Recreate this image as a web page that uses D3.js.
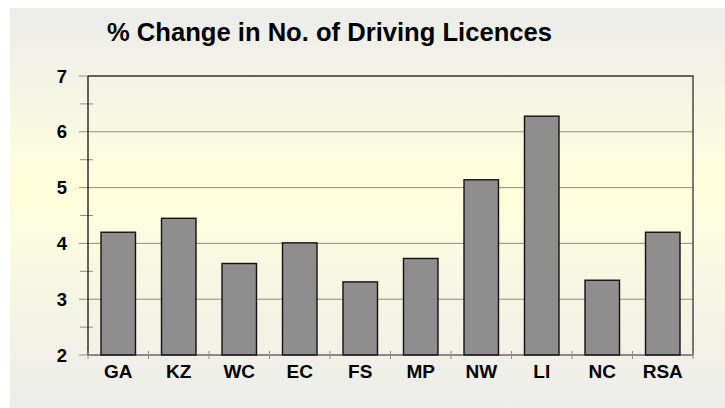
<!DOCTYPE html>
<html>
<head>
<meta charset="utf-8">
<script src="https://cdn.jsdelivr.net/npm/d3@7"></script>
<style>
  body { margin: 0; background: #ffffff; }
  text { font-family: "Liberation Sans", Arial, sans-serif; font-weight: bold; fill: #000; }
</style>
</head>
<body>
<div id="chart"></div>
<script>
let width = 725;
let height = 408;

let regions = ["GA", "KZ", "WC", "EC", "FS", "MP", "NW", "LI", "NC", "RSA"];
let changes = [4.2, 4.45, 3.64, 4.01, 3.31, 3.73, 5.14, 6.28, 3.34, 4.2];
let yTicks = [2, 3, 4, 5, 6, 7];
let yMinorTicks = [2.5, 3.5, 4.5, 5.5, 6.5];

let svg = d3.select("#chart")
	.append("svg")
	.attr("width", width)
	.attr("height", height);

// background gradient panel
let defs = svg.append("defs");
let grad = defs.append("linearGradient")
	.attr("id", "bg")
	.attr("x1", 0).attr("y1", 0).attr("x2", 0).attr("y2", 1);
grad.append("stop").attr("offset", "0%").attr("stop-color", "#ececec");
grad.append("stop").attr("offset", "45%").attr("stop-color", "#ffffdc");
grad.append("stop").attr("offset", "100%").attr("stop-color", "#ececec");

svg.append("rect")
	.attr("x", 10).attr("y", 8)
	.attr("width", width - 10).attr("height", height - 8)
	.attr("fill", "url(#bg)");

let plotLeft = 88, plotRight = 693, plotTop = 76, plotBottom = 355;

let x = d3.scaleBand()
	.domain(regions)
	.range([plotLeft, plotRight])
	.paddingInner(0.43)
	.paddingOuter(0.215);

let xBand = d3.scaleBand().domain(regions).range([plotLeft, plotRight]);

let y = d3.scaleLinear()
	.domain([2, 7])
	.range([plotBottom, plotTop]);

// grid lines
svg.append("g")
	.selectAll("line")
	.data(yTicks.slice(1, -1))
	.enter()
	.append("line")
	.attr("x1", plotLeft).attr("x2", plotRight)
	.attr("y1", d => y(d)).attr("y2", d => y(d))
	.attr("stroke", "#8c8c8c")
	.attr("stroke-width", 1);

// frame top and right
svg.append("path")
	.attr("d", "M" + plotLeft + "," + plotTop + "H" + plotRight + "V" + plotBottom)
	.attr("fill", "none")
	.attr("stroke", "#333")
	.attr("stroke-width", 1.3);

// bars
svg.append("g")
	.selectAll("rect")
	.data(changes)
	.enter()
	.append("rect")
	.attr("x", (d, i) => x(regions[i]))
	.attr("y", d => y(d))
	.attr("width", x.bandwidth())
	.attr("height", d => y(2) - y(d))
	.attr("fill", "#8e8e8e")
	.attr("stroke", "#111")
	.attr("stroke-width", 1.4);

// y axis
let yAxis = svg.append("g");
yAxis.selectAll(".major")
	.data(yTicks)
	.enter()
	.append("line")
	.attr("x1", plotLeft - 9).attr("x2", plotLeft)
	.attr("y1", d => y(d)).attr("y2", d => y(d))
	.attr("stroke", "#8c8c8c");
yAxis.selectAll(".minor")
	.data(yMinorTicks)
	.enter()
	.append("line")
	.attr("x1", plotLeft - 8).attr("x2", plotLeft + 5)
	.attr("y1", d => y(d)).attr("y2", d => y(d))
	.attr("stroke", "#8c8c8c");
yAxis.selectAll("text")
	.data(yTicks)
	.enter()
	.append("text")
	.attr("x", 67)
	.attr("y", d => y(d))
	.attr("dy", "0.36em")
	.attr("text-anchor", "end")
	.style("font-size", "18.5px")
	.text(d => d);
yAxis.append("line")
	.attr("x1", plotLeft).attr("x2", plotLeft)
	.attr("y1", plotTop).attr("y2", plotBottom)
	.attr("stroke", "#111")
	.attr("stroke-width", 1.3);

// x axis
let xAxis = svg.append("g");
xAxis.append("line")
	.attr("x1", plotLeft).attr("x2", plotRight)
	.attr("y1", plotBottom).attr("y2", plotBottom)
	.attr("stroke", "#222")
	.attr("stroke-width", 1.2);
xAxis.selectAll(".tick")
	.data(regions.concat(["end"]))
	.enter()
	.append("line")
	.attr("x1", (d, i) => plotLeft + i * xBand.bandwidth())
	.attr("x2", (d, i) => plotLeft + i * xBand.bandwidth())
	.attr("y1", plotBottom - 4).attr("y2", plotBottom + 4)
	.attr("stroke", "#8c8c8c");
xAxis.selectAll("text")
	.data(regions)
	.enter()
	.append("text")
	.attr("x", d => xBand(d) + xBand.bandwidth() / 2)
	.attr("y", 377.5)
	.attr("text-anchor", "middle")
	.style("font-size", "19px")
	.text(d => d);

// title
svg.append("text")
	.attr("x", 107)
	.attr("y", 41)
	.attr("textLength", 445)
	.attr("lengthAdjust", "spacingAndGlyphs")
	.style("font-size", "25px")
	.text("% Change in No. of Driving Licences");
</script>
</body>
</html>
